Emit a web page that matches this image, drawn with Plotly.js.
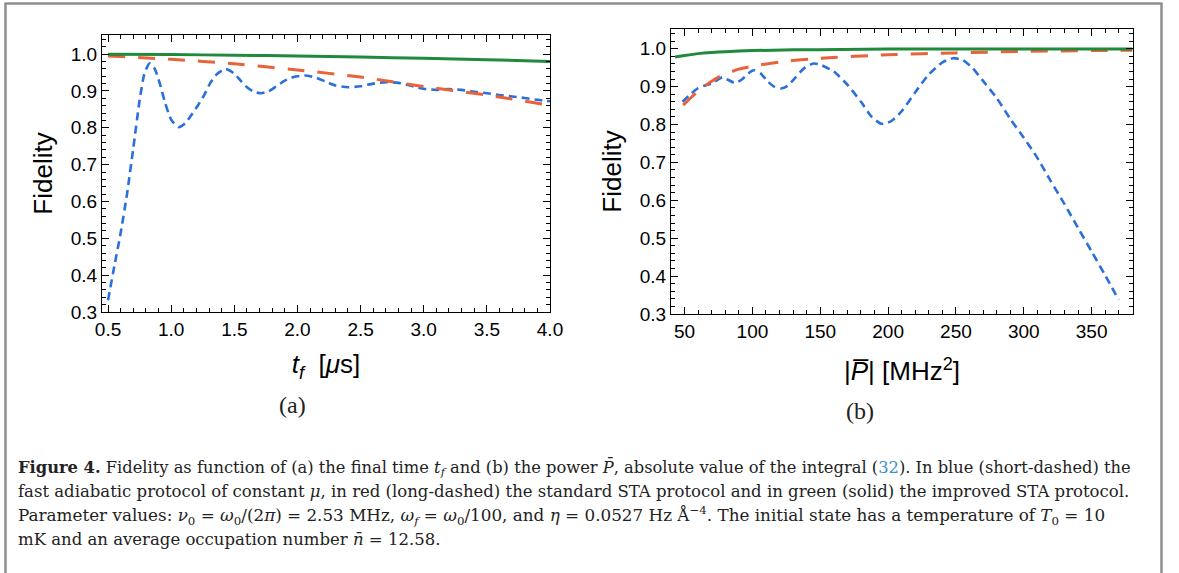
<!DOCTYPE html>
<html>
<head>
<meta charset="utf-8">
<script src="https://cdn.plot.ly/plotly-3.0.1.min.js"></script>
<style>
html,body{margin:0;padding:0;background:#fff;}
#chart{width:1179px;height:573px;}
</style>
</head>
<body>
<div id="chart"></div>
<script>
// ---------- Data ----------
// Panel (a): fidelity vs final time t_f [µs]
const tfSmooth = [0.5, 1.0, 1.5, 2.0, 2.5, 3.0, 3.5, 4.0];
const greenA = [1.000, 0.999, 0.997, 0.995, 0.992, 0.989, 0.985, 0.980];
const redA   = [0.995, 0.986, 0.974, 0.957, 0.938, 0.912, 0.889, 0.861];
const tfBlue = [0.5,0.55,0.6,0.65,0.7,0.75,0.79,0.83,0.87,0.91,0.95,1.0,1.06,1.11,1.16,1.21,1.26,1.31,1.36,1.43,1.5,1.55,1.6,1.65,1.71,1.77,1.83,1.9,1.97,2.06,2.14,2.22,2.3,2.4,2.5,2.6,2.7,2.8,2.9,3.0,3.1,3.2,3.3,3.4,3.5,3.6,3.7,3.8,3.9,4.0];
const blueA  = [0.332,0.425,0.515,0.620,0.745,0.875,0.950,0.975,0.960,0.920,0.870,0.822,0.802,0.812,0.835,0.860,0.888,0.922,0.945,0.960,0.947,0.928,0.910,0.899,0.894,0.899,0.912,0.928,0.938,0.942,0.937,0.926,0.915,0.910,0.913,0.920,0.924,0.922,0.914,0.906,0.903,0.905,0.903,0.898,0.894,0.889,0.885,0.881,0.876,0.872];

// Panel (b): fidelity vs power |P| [MHz^2]
const pGreen = [43, 50, 60, 70, 80, 100, 130, 165, 200, 250, 300, 380];
const greenB = [0.978, 0.982, 0.987, 0.990, 0.992, 0.995, 0.997, 0.998, 0.999, 0.999, 0.999, 0.999];
const pRed   = [49, 55, 60, 65, 70, 75, 80, 90, 100, 120, 150, 200, 250, 300, 350, 380];
const redB   = [0.851, 0.872, 0.888, 0.902, 0.914, 0.925, 0.933, 0.946, 0.954, 0.965, 0.975, 0.984, 0.989, 0.993, 0.995, 0.996];
const pBlue  = [48.5,55,60,65,70,74,78,82,87,92,97,101,106,111,116,121,126,132,138,145,150,160,170,180,188,195,202,210,220,230,240,248,255,262,270,280,290,300,310,320,330,340,350,360,370];
const blueB  = [0.860,0.882,0.896,0.903,0.908,0.917,0.925,0.918,0.910,0.918,0.935,0.943,0.935,0.915,0.900,0.895,0.902,0.925,0.948,0.961,0.958,0.940,0.905,0.860,0.820,0.802,0.808,0.835,0.885,0.932,0.964,0.975,0.970,0.950,0.915,0.870,0.815,0.765,0.712,0.650,0.590,0.527,0.465,0.402,0.337];

// Tick labels
const yTicks = [0.3, 0.4, 0.5, 0.6, 0.7, 0.8, 0.9, 1.0];
const yTickText = ["0.3","0.4","0.5","0.6","0.7","0.8","0.9","1.0"];
const xTicksA = [0.5, 1.0, 1.5, 2.0, 2.5, 3.0, 3.5, 4.0];
const xTickTextA = ["0.5","1.0","1.5","2.0","2.5","3.0","3.5","4.0"];
const xTicksB = [50, 100, 150, 200, 250, 300, 350];
const xTickTextB = ["50","100","150","200","250","300","350"];

// ---------- Styling ----------
const W = 1179, H = 573;
const SANS = "Liberation Sans, Arial, sans-serif";
const SERIF = "Liberation Serif, Times New Roman, serif";
const CAPSERIF = "DejaVu Serif, serif";
const GREEN = "#1f8a3c", RED = "#e8623a", BLUE = "#2b6fdb";
const fx = p => p / W;
const fy = p => 1 - p / H;

function line(x, y, color, width, dash, xa, ya) {
  return {x: x, y: y, type: "scatter", mode: "lines", xaxis: xa, yaxis: ya,
          line: {color: color, width: width, dash: dash, shape: "spline", smoothing: 0.6},
          hoverinfo: "skip", showlegend: false};
}

const traces = [
  line(tfBlue, blueA, BLUE, 2.6, "8px,5px", "x", "y"),
  line(tfSmooth, redA, RED, 3, "17px,13px", "x", "y"),
  line(tfSmooth, greenA, GREEN, 3, "solid", "x", "y"),
  line(pBlue, blueB, BLUE, 2.6, "8px,5px", "x2", "y2"),
  line(pRed, redB, RED, 3, "17px,13px", "x2", "y2"),
  line(pGreen, greenB, GREEN, 3, "solid", "x2", "y2")
];

function axisCommon(extra) {
  return Object.assign({
    ticks: "inside", ticklen: 7, tickwidth: 1, tickcolor: "#000",
    showline: true, linecolor: "#000", linewidth: 1, mirror: "allticks",
    showgrid: false, zeroline: false, automargin: false,
    tickfont: {family: SANS, size: 19, color: "#000"}
  }, extra);
}
const TITLEFONT = {family: SANS, size: 26, color: "#000"};

const layout = {
  width: W, height: H,
  margin: {l: 0, r: 0, t: 0, b: 0, pad: 0},
  paper_bgcolor: "#fff", plot_bgcolor: "#fff",
  showlegend: false,
  xaxis: axisCommon({
    domain: [fx(102), fx(550)], range: [0.452, 4.0], anchor: "y",
    tickmode: "array", tickvals: xTicksA, ticktext: xTickTextA,
    minor: {ticks: "inside", ticklen: 4, tickwidth: 1, tickcolor: "#000", dtick: 0.1, tick0: 0.5, showgrid: false},
    title: {text: "<i>t</i><sub><i>f</i></sub>  [<i>μ</i>s]", font: TITLEFONT, standoff: 16}
  }),
  yaxis: axisCommon({
    domain: [fy(312), fy(35)], range: [0.3, 1.052], anchor: "x",
    tickmode: "array", tickvals: yTicks, ticktext: yTickText,
    minor: {ticks: "inside", ticklen: 4, tickwidth: 1, tickcolor: "#000", dtick: 0.02, tick0: 0.3, showgrid: false},
    title: {text: "Fidelity", font: TITLEFONT, standoff: 10}
  }),
  xaxis2: axisCommon({
    domain: [fx(671), fx(1133)], range: [40, 380.5], anchor: "y2",
    tickmode: "array", tickvals: xTicksB, ticktext: xTickTextB,
    minor: {ticks: "inside", ticklen: 4, tickwidth: 1, tickcolor: "#000", dtick: 10, tick0: 50, showgrid: false},
    title: {text: "|<i>P̅</i>| [MHz<sup>2</sup>]", font: TITLEFONT, standoff: 21}
  }),
  yaxis2: axisCommon({
    domain: [fy(314), fy(29)], range: [0.3, 1.052], anchor: "x2",
    tickmode: "array", tickvals: yTicks, ticktext: yTickText,
    minor: {ticks: "inside", ticklen: 4, tickwidth: 1, tickcolor: "#000", dtick: 0.02, tick0: 0.3, showgrid: false},
    title: {text: "Fidelity", font: TITLEFONT, standoff: 10}
  }),
  shapes: [
    {type: "line", xref: "paper", yref: "paper", x0: fx(4.5), x1: fx(1162.5), y0: fy(3.5), y1: fy(3.5), line: {color: "#8f8f8f", width: 2.5}},
    {type: "line", xref: "paper", yref: "paper", x0: fx(5.5), x1: fx(5.5), y0: fy(3), y1: 0, line: {color: "#8f8f8f", width: 2.5}},
    {type: "line", xref: "paper", yref: "paper", x0: fx(1161.5), x1: fx(1161.5), y0: fy(3), y1: 0, line: {color: "#8f8f8f", width: 2.5}}
  ],
  annotations: [
    {text: "(a)", xref: "paper", yref: "paper", x: fx(292), y: fy(405), xanchor: "center", yanchor: "middle", showarrow: false,
     font: {family: SERIF, size: 24, color: "#222"}},
    {text: "(b)", xref: "paper", yref: "paper", x: fx(860), y: fy(411), xanchor: "center", yanchor: "middle", showarrow: false,
     font: {family: SERIF, size: 24, color: "#222"}},
    {text: "<b>Figure 4.</b> Fidelity as function of (a) the final time <i>t<sub>f</sub></i> and (b) the power <i>P̄</i>, absolute value of the integral (<span style='color:#3a8fc8'>32</span>). In blue (short-dashed) the",
     xref: "paper", yref: "paper", x: fx(16), y: fy(467), xanchor: "left", yanchor: "middle", showarrow: false,
     font: {family: CAPSERIF, size: 16.3, color: "#222"}},
    {text: "fast adiabatic protocol of constant <i>μ</i>, in red (long-dashed) the standard STA protocol and in green (solid) the improved STA protocol.",
     xref: "paper", yref: "paper", x: fx(16), y: fy(491), xanchor: "left", yanchor: "middle", showarrow: false,
     font: {family: CAPSERIF, size: 16.5, color: "#222"}},
    {text: "Parameter values: <i>ν</i><sub>0</sub> = <i>ω</i><sub>0</sub>/(2<i>π</i>) = 2.53 MHz, <i>ω<sub>f</sub></i> = <i>ω</i><sub>0</sub>/100, and <i>η</i> = 0.0527 Hz Å<sup>−4</sup>. The initial state has a temperature of <i>T</i><sub>0</sub> = 10",
     xref: "paper", yref: "paper", x: fx(16), y: fy(515), xanchor: "left", yanchor: "middle", showarrow: false,
     font: {family: CAPSERIF, size: 16.8, color: "#222"}},
    {text: "mK and an average occupation number <i>n̄</i> = 12.58.",
     xref: "paper", yref: "paper", x: fx(16), y: fy(539), xanchor: "left", yanchor: "middle", showarrow: false,
     font: {family: CAPSERIF, size: 16.5, color: "#222"}}
  ]
};

Plotly.newPlot("chart", traces, layout, {displayModeBar: false, staticPlot: true});
</script>
</body>
</html>
